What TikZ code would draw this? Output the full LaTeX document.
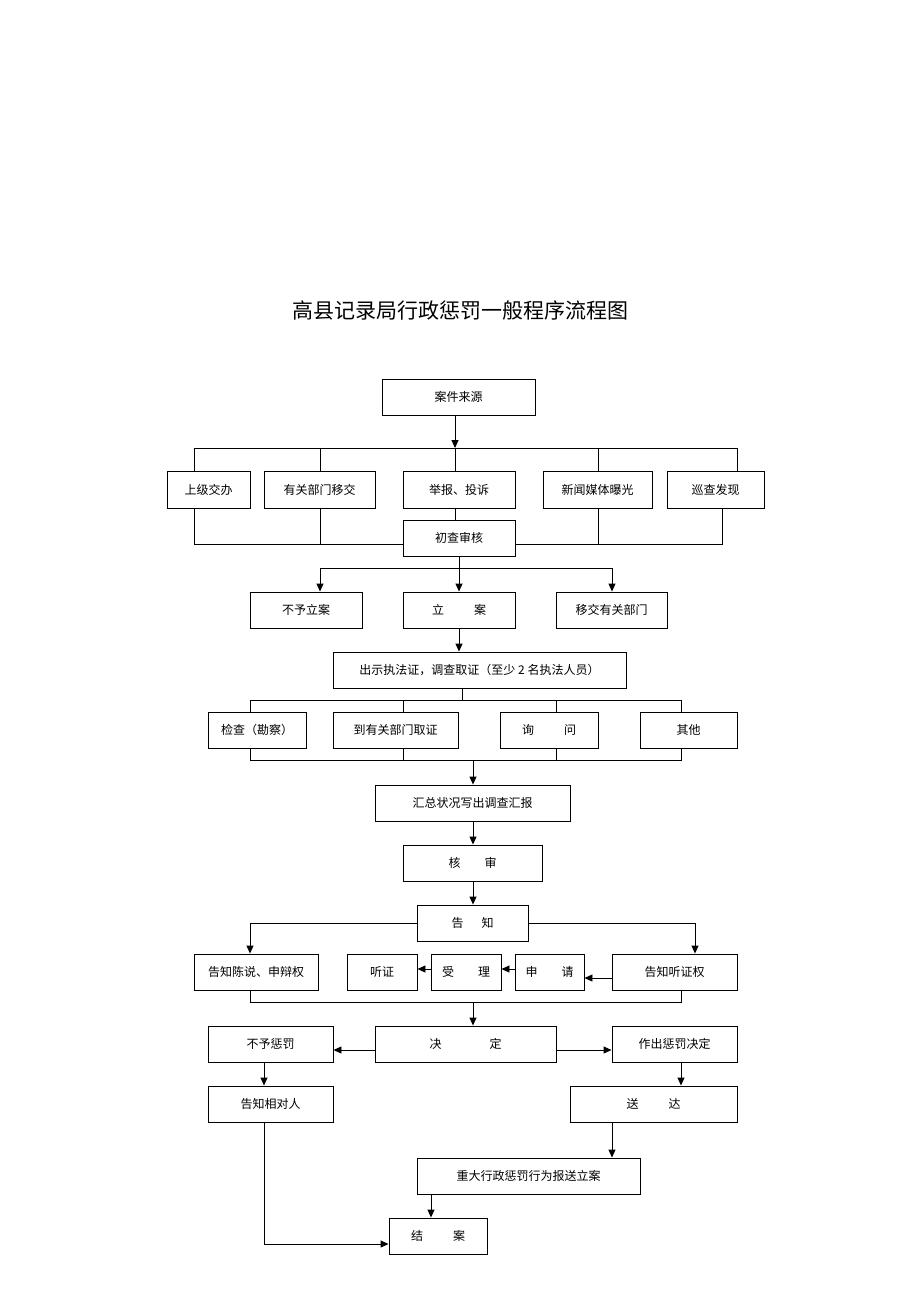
\documentclass[tikz,border=0pt]{standalone}
\usepackage{fontspec}
\newfontfamily\cjk{Noto Sans CJK SC}
\usetikzlibrary{arrows.meta}
\tikzset{
  box/.style={draw, line width=0.9pt, inner sep=0pt, font=\cjk\fontsize{12}{14}\selectfont},
  ln/.style={line width=0.9pt},
  arr/.style={ln, -{Triangle[length=8pt,width=7pt]}}
}
% box from left, top, right, bottom
\newcommand{\bx}[6]{\node[box, minimum width={(#4-#2)*1pt}, minimum height={(#5-#3)*1pt}] (#1) at ({(#2+#4)/2},{(#3+#5)/2}) {#6};}
\begin{document}
\begin{tikzpicture}[x=1pt,y=-1pt]
        \useasboundingbox (0,0) rectangle (920,1302);
        \node[font=\cjk\fontsize{21}{24}\selectfont] (title) at (460,310) {高县记录局行政惩罚一般程序流程图};

        % Nodes
        \bx{src}{382}{379}{535}{415}{案件来源}
        \bx{sj}{167}{471}{250}{508}{上级交办}
        \bx{yg}{264}{471}{375}{508}{有关部门移交}
        \bx{jb}{403}{471}{515}{508}{举报、投诉}
        \bx{xw}{543}{471}{652}{508}{新闻媒体曝光}
        \bx{xc}{667}{471}{764}{508}{巡查发现}
        \bx{cc}{403}{520}{515}{556}{初查审核}
        \bx{byla}{250}{592}{362}{628}{不予立案}
        \bx{la}{403}{592}{515}{628}{立\hspace{2.5em}案}
        \bx{yj}{556}{592}{667}{628}{移交有关部门}
        \bx{cs}{333}{652}{626}{688}{出示执法证，调查取证（至少 2 名执法人员）}
        \bx{jc}{208}{712}{306}{748}{检查（勘察）}
        \bx{dy}{333}{712}{458}{748}{到有关部门取证}
        \bx{xw2}{500}{712}{598}{748}{询\hspace{2.5em}问}
        \bx{qt}{640}{712}{737}{748}{其他}
        \bx{hz}{375}{785}{570}{821}{汇总状况写出调查汇报}
        \bx{hs}{403}{845}{542}{881}{核\hspace{2em}审}
        \bx{gz}{417}{905}{528}{941}{告\hspace{1.5em}知}
        \bx{gzcs}{194}{954}{318}{990}{告知陈说、申辩权}
        \bx{tz}{347}{954}{417}{990}{听证}
        \bx{sl}{431}{954}{501}{990}{受\hspace{2em}理}
        \bx{sq}{515}{954}{584}{990}{申\hspace{2em}请}
        \bx{gztz}{612}{954}{737}{990}{告知听证权}
        \bx{bycf}{208}{1026}{333}{1062}{不予惩罚}
        \bx{jd}{375}{1026}{556}{1062}{决\hspace{4em}定}
        \bx{zc}{612}{1026}{737}{1062}{作出惩罚决定}
        \bx{gzxd}{208}{1086}{333}{1122}{告知相对人}
        \bx{sd}{570}{1086}{737}{1122}{送\hspace{2.5em}达}
        \bx{zd}{417}{1158}{640}{1194}{重大行政惩罚行为报送立案}
        \bx{ja}{389}{1218}{487}{1254}{结\hspace{2.5em}案}

        % Junctions
        \coordinate (j1) at (455,448);
        \coordinate (j2) at (459,568);
        \coordinate (j3) at (462,700);
        \coordinate (j4) at (473,760);
        \coordinate (j5) at (473,1002);
        \coordinate (j6) at (264,1244);

        % Edges
        \draw[arr] (src.south -| j1) -- (j1);
        \draw[ln] (194,448) -- (737,448);
        \draw[ln] (sj.north -| 194,0) -- (194,448);
        \draw[ln] (yg.north -| 320,0) -- (320,448);
        \draw[ln] (jb.north -| j1) -- (j1);
        \draw[ln] (xw.north -| 598,0) -- (598,448);
        \draw[ln] (xc.north -| 737,0) -- (737,448);
        \draw[ln] (jb.south -| j1) -- (cc.north -| j1);
        \draw[ln] (sj.south -| 194,0) -- (194,544) -- (cc.west |- 0,544);
        \draw[ln] (yg.south -| 320,0) -- (320,544);
        \draw[ln] (xc.south -| 722,0) -- (722,544) -- (cc.east |- 0,544);
        \draw[ln] (xw.south -| 598,0) -- (598,544);

        \draw[ln] (cc.south -| j2) -- (j2);
        \draw[ln] (320,568) -- (612,568);
        \draw[arr] (320,568) -- (byla.north -| 320,0);
        \draw[arr] (j2) -- (la.north -| j2);
        \draw[arr] (612,568) -- (yj.north -| 612,0);
        \draw[arr] (la.south -| j2) -- (cs.north -| j2);

        \draw[ln] (cs.south -| j3) -- (j3);
        \draw[ln] (250,700) -- (681,700);
        \draw[ln] (250,700) -- (jc.north -| 250,0);
        \draw[ln] (403,700) -- (dy.north -| 403,0);
        \draw[ln] (556,700) -- (xw2.north -| 556,0);
        \draw[ln] (681,700) -- (qt.north -| 681,0);
        \draw[ln] (jc.south -| 250,0) -- (250,760) -- (681,760) -- (qt.south -| 681,0);
        \draw[ln] (dy.south -| 403,0) -- (403,760);
        \draw[ln] (xw2.south -| 556,0) -- (556,760);
        \draw[arr] (j4) -- (hz.north -| j4);
        \draw[arr] (hz.south -| j4) -- (hs.north -| j4);
        \draw[arr] (hs.south -| j4) -- (gz.north -| j4);

        \draw[arr] (gz.west) -| (gzcs.north -| 250,0);
        \draw[arr] (gz.east) -| (gztz.north -| 695,0);
        \draw[arr] (gztz.west |- 0,978) -- (sq.east |- 0,978);
        \draw[arr] (sq.west |- 0,969) -- (sl.east |- 0,969);
        \draw[arr] (sl.west |- 0,969) -- (tz.east |- 0,969);
        \draw[ln] (gzcs.south -| 250,0) -- (250,1002) -- (681,1002) -- (gztz.south -| 681,0);
        \draw[arr] (j5) -- (jd.north -| j5);

        \draw[arr] (jd.west |- 0,1050) -- (bycf.east |- 0,1050);
        \draw[arr] (jd.east |- 0,1050) -- (zc.west |- 0,1050);
        \draw[arr] (bycf.south -| 264,0) -- (gzxd.north -| 264,0);
        \draw[arr] (zc.south -| 681,0) -- (sd.north -| 681,0);
        \draw[arr] (sd.south -| 612,0) -- (zd.north -| 612,0);
        \draw[arr] (zd.south -| 431,0) -- (ja.north -| 431,0);
        \draw[arr] (gzxd.south -| j6) -- (j6) -- (ja.west |- j6);
    \end{tikzpicture}
\end{document}
